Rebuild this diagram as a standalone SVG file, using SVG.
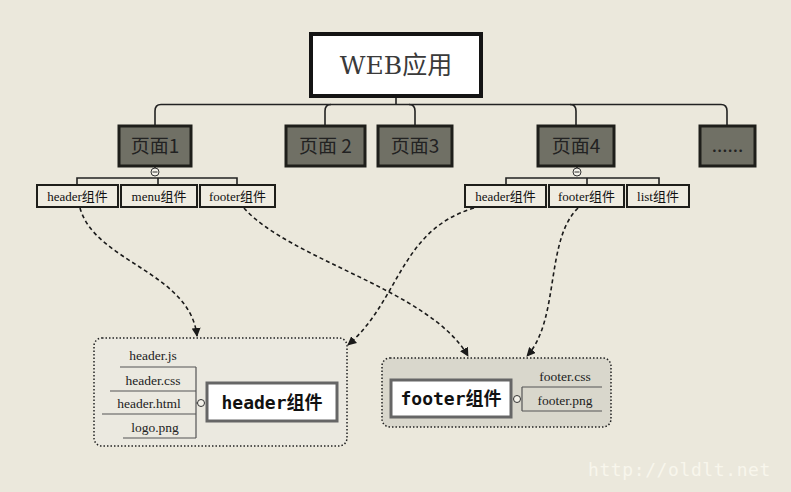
<svg xmlns="http://www.w3.org/2000/svg" width="791" height="492" viewBox="0 0 791 492">
<defs>
<marker id="arr" viewBox="0 0 10 10" refX="9" refY="5" markerWidth="9" markerHeight="9" markerUnits="userSpaceOnUse" orient="auto">
<path d="M0,0 L10,5 L0,10 z" fill="#1a1a1a"/>
</marker>
<style>
.bg{fill:#ebe8dc}
.line{fill:none;stroke:#222;stroke-width:1.6}
.dash{fill:none;stroke:#1a1a1a;stroke-width:1.6;stroke-dasharray:4 3;marker-end:url(#arr)}
.page{fill:#707065;stroke:#1e1e1a;stroke-width:3}
.pt{font-family:"Noto Sans CJK SC","Noto Sans",sans-serif;font-size:19px;fill:#222;text-anchor:middle}
.sub{fill:#efece1;stroke:#1e1e1a;stroke-width:2}
.st{font-family:"Liberation Serif","Noto Sans CJK SC",serif;font-size:13px;fill:#111;text-anchor:middle}
.knob{fill:#f4f2ea;stroke:#333;stroke-width:1}
.cont{stroke:#222;stroke-width:1.5;stroke-dasharray:1.5 2}
.fl{font-family:"Liberation Serif",serif;font-size:13.5px;fill:#222;text-anchor:middle}
.ul{fill:none;stroke:#555;stroke-width:1.2}
.big{fill:#fff;stroke:#666;stroke-width:3}
.bt{font-family:"DejaVu Sans Mono","Noto Sans CJK SC",monospace;font-size:18px;font-weight:bold;fill:#111;text-anchor:middle}
</style>
</defs>
<rect class="bg" x="0" y="0" width="791" height="492"/>

<g id="connectors">
<path class="line" d="M396 98 V104.5"/>
<path class="line" d="M155 125 V111 Q155 104.5 161 104.5 H721 Q727 104.5 727 111 V125"/>
<path class="line" d="M331 104.5 Q325 104.5 325 111 V125"/>
<path class="line" d="M409 104.5 Q415 104.5 415 111 V125"/>
<path class="line" d="M570 104.5 Q576 104.5 576 111 V125"/>
<path class="line" d="M77 185 V178 H237 V185 M158 178 V185 M155 167 V168"/>
<path class="line" d="M506 185 V178 H659 V185 M587 178 V185 M577 167 V168"/>
<path class="dash" d="M80 208 C95 262, 190 272, 197 336"/>
<path class="dash" d="M244 208 C290 260, 430 290, 468 356"/>
<path class="dash" d="M474 208 C400 230, 400 300, 348 345"/>
<path class="dash" d="M578 208 C545 240, 560 320, 527 356"/>
</g>

<g id="web">
<rect x="311" y="34" width="170" height="62" fill="#fff" stroke="#141414" stroke-width="4"/>
<text x="396" y="74" font-family="'DejaVu Serif','Noto Sans CJK SC',serif" font-size="25" fill="#3a3a3a" text-anchor="middle">WEB应用</text>
</g>

<g id="page1"><rect class="page" x="119" y="126" width="72" height="40"/><text class="pt" x="155" y="153">页面1</text></g>
<g id="page2"><rect class="page" x="286" y="126" width="79" height="40"/><text class="pt" x="325.5" y="153">页面 2</text></g>
<g id="page3"><rect class="page" x="378" y="126" width="74" height="40"/><text class="pt" x="415" y="153">页面3</text></g>
<g id="page4"><rect class="page" x="538" y="126" width="76" height="40"/><text class="pt" x="576" y="153">页面4</text></g>
<g id="pagemore"><rect class="page" x="700" y="126" width="55" height="40"/><text class="pt" x="727.5" y="152" font-size="15">......</text></g>

<g id="knob1"><circle class="knob" cx="155" cy="172" r="4"/><path d="M152.5 172 H157.5" stroke="#333" stroke-width="1"/></g>
<g id="knob4"><circle class="knob" cx="577" cy="172" r="4"/><path d="M574.5 172 H579.5" stroke="#333" stroke-width="1"/></g>

<g id="p1-header"><rect class="sub" x="37" y="185" width="81" height="22"/><text class="st" x="77.5" y="200.5">header组件</text></g>
<g id="p1-menu"><rect class="sub" x="121" y="185" width="76" height="22"/><text class="st" x="159" y="200.5">menu组件</text></g>
<g id="p1-footer"><rect class="sub" x="200" y="185" width="75" height="22"/><text class="st" x="237.5" y="200.5">footer组件</text></g>
<g id="p4-header"><rect class="sub" x="465" y="185" width="81" height="22"/><text class="st" x="505.5" y="200.5">header组件</text></g>
<g id="p4-footer"><rect class="sub" x="549" y="185" width="75" height="22"/><text class="st" x="586.5" y="200.5">footer组件</text></g>
<g id="p4-list"><rect class="sub" x="627" y="185" width="62" height="22"/><text class="st" x="658" y="200.5">list组件</text></g>

<g id="header-detail">
<rect class="cont" x="94" y="338" width="253" height="108" rx="8" fill="#ebe9e0"/>
<path class="ul" d="M120 367 H196 M110 391 H196 M102 414 H196 M123 438 H196 M196 367 V438 M196 403 H198"/>
<text class="fl" x="153" y="360">header.js</text>
<text class="fl" x="153" y="385">header.css</text>
<text class="fl" x="149" y="408">header.html</text>
<text class="fl" x="155" y="432">logo.png</text>
<circle class="knob" cx="201" cy="403" r="3.5"/>
<rect class="big" x="207" y="383" width="130" height="38"/>
<text class="bt" x="272" y="409">header组件</text>
</g>

<g id="footer-detail">
<rect class="cont" x="382" y="358" width="229" height="69" rx="8" fill="#d9d7cc"/>
<path class="ul" d="M522 387 H602 M522 411 H602 M522 387 V411"/>
<text class="fl" x="565" y="381">footer.css</text>
<text class="fl" x="565" y="405">footer.png</text>
<circle class="knob" cx="517" cy="399" r="3.5"/>
<rect class="big" x="391" y="380" width="120" height="37"/>
<text class="bt" x="451" y="405">footer组件</text>
</g>

<text x="588" y="476" font-family="'DejaVu Sans Mono',monospace" font-size="18" fill="#f8f6ec" letter-spacing="0.6">http://oldlt.net</text>
</svg>
